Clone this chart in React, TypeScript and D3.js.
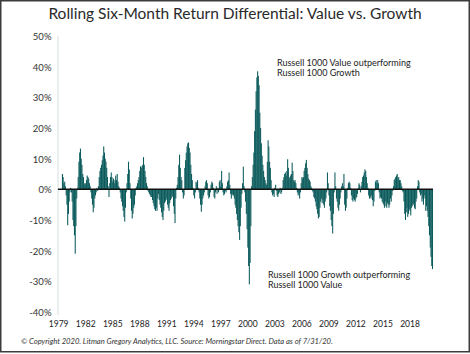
import React from "react";
import * as d3 from "d3";

// first monthly observation: June 1979 (rolling six-month window)
const startYear = 1979;
const startMonth = 5; // June (0-based)

// Rolling six-month return differential, Russell 1000 Value minus Russell 1000 Growth (%)
const values: number[] = [
  // 1979 (Jun-Dec)
  5, 4, 2, 2.5, 1, -2, -5,
  // 1980
  -11.7, -8, -4, -1, 0.5, -1, -4, -10, -12, -15, -21, -12,
  // 1981
  -3, 0.5, 4, 9, 12, 13.3, 10, 8, 5, 4, 2, 1.5,
  // 1982
  2, 3, 4.5, 4, 3.5, 2, 1, -1, -3, -5, -7.5, -6,
  // 1983
  -3, -2, -1, 0.5, -0.5, 1, 4, 6, 7, 8, 9.5, 11,
  // 1984
  14, 12, 10, 9, 7, 4, 1, -2.5, 2, 4, 5.5, 4,
  // 1985
  2.5, 3.5, 2, 3, 4.5, 3, 5, 2.5, 1, 0.5, -1, -3,
  // 1986
  -4, -5.5, -7, -9, -10.5, -6, -1, 2, 5, 9, 6.5, 2,
  // 1987
  -3, -7, -9.5, -8, -6, -5, -2, 0.5, 1, 2, 3, 4,
  // 1988
  6, 7.5, 7, 7.5, 8, 10.5, 8, 6, 4, 2, 1, -0.5,
  // 1989
  -1, -1.5, -2, -2.5, -2.5, -3.5, -4.5, -5.5, -6.5, -7, -6, -7,
  // 1990
  -3, -1.5, -3.5, -5, -6, -7.5, -9, -10, -7, -4.5, -4, -3.5,
  // 1991
  -3, -5, -6, -7, -4.5, -3.5, -3, -2, -2.5, -5.5, -8, -11,
  // 1992
  -3, 0.5, 1.5, 4, 8, 11.3, 7, 4, 3, -1, -3, -2,
  // 1993
  7, 9.5, 12, 14, 15, 15.3, 13.5, 12, 8, 5, 3, 0.5,
  // 1994
  -2, -3, -1, 2.5, 2, 3, 0.5, -1, -3, -5, -7.3, -5,
  // 1995
  -3, -2, -1, 1, 2.5, 3, 2, -2, -3, -2.5, -1, 1.5,
  // 1996
  2.5, 2, 0.5, -2.5, -3, -1, 1, -1.5, 0.5, -1, 2.5, 3,
  // 1997
  1, 6, 2, -1, -2, -1.5, -0.5, -1, 1, 2.5, 3, 5.5,
  // 1998
  1.5, -1.5, -3, -2, -1.5, -2, -3, -5, -6, -8, -10, -12,
  // 1999
  -14, -16.5, -12, -6, -1.5, 2, 7.4, 1, -1, -4, -8, -13,
  // 2000
  -19, -25, -31, -24, -12, 1, 4, 8, 12, 19, 26, 32,
  // 2001
  36.5, 38.5, 37, 34, 25, 20, 15, 11, 8, 6, 4, 3,
  // 2002
  2, 1.5, 9, 16, 14, 9, 7, 3, -1, -2, -1.5, -2.5,
  // 2003
  0.5, 1.5, -0.5, -2, -2.5, -1.5, -1, 0.5, -1.5, -1, 0.5, 3,
  // 2004
  4, 5, 5.5, 4.5, 6, 9.8, 7, 4, 3.5, 4.5, 5, 8.7,
  // 2005
  6, 3, 2.5, 3, 2, 0.5, -1, -2, -1.5, -3, -1, 2,
  // 2006
  4, 3.5, 4, 6, 7, 8.5, 9.6, 7, 5, 3.5, 3, 2.5,
  // 2007
  1, 0.5, -0.5, -1, -2.5, -3, -4, -5.5, -6.5, -8, -9.5, -9,
  // 2008
  -6, -4, -3, -4.5, -3.5, -5, -6, -4, -3, -1, 5.5, 2,
  // 2009
  -2, -5.5, -7, -10, -12, -14.4, -8, -1, 5.5, 1, -3, -4,
  // 2010
  -6, -7, -5, -3, -1, 1, 2, 1, 5, -5, -7, -6,
  // 2011
  -3, 0.5, 2, 2.5, 2, 0.5, -2, -3.5, -4, -3, -3.5, -4,
  // 2012
  -3, -2.5, -1.5, 0.5, 2, 1.5, -1, 1, 2.5, 4, 4.5, 5.5,
  // 2013
  6.5, 6, 4, 2, 0.5, -2, -3, -2.5, -3, -2, -3.5, -5.5,
  // 2014
  -4, -0.5, 2.5, 3, 2, 3, 2, -1, -3, -2.5, -3, -4,
  // 2015
  -4.5, -5, -6, -4, -5.5, -6, -4.5, -5, -6, -5, -3, -4,
  // 2016
  -2, -0.5, 1, 3, 3.5, 4, 4.5, 5, 3.5, 4, 3, 3,
  // 2017
  2, 1, -0.5, -1, -4, -8, -10, -7.5, -6, -9, -8, -6.5,
  // 2018
  -7, -8.5, -6, -5.5, -4.5, -5, -6, -6.5, -4, -3, 1, 3,
  // 2019
  2.5, -1, -2, -1.5, -4, -3, -5, -2, -3, -7, -5.5, -7,
  // 2020 (Jan-Jul)
  -9, -12, -15, -19, -22, -25, -26,
];

const yTicks = [50, 40, 30, 20, 10, 0, -10, -20, -30, -40];
const xTickYears = [1979, 1982, 1985, 1988, 1991, 1994, 1997, 2000, 2003, 2006, 2009, 2012, 2015, 2018];

const title = "Rolling Six-Month Return Differential: Value vs. Growth";
const noteTop = ["Russell 1000 Value outperforming", "Russell 1000 Growth"];
const noteBottom = ["Russell 1000 Growth outperforming", "Russell 1000 Value"];
const footer =
  "© Copyright 2020. Litman Gregory Analytics, LLC. Source: Morningstar Direct. Data as of 7/31/20.";

const FONT = "Lato, 'Open Sans', sans-serif";

export default function App() {
  const W = 470;
  const H = 354;
  const dates = values.map((_, i) => d3.timeMonth.offset(new Date(startYear, startMonth, 1), i));
  const x = d3
    .scaleTime()
    .domain([new Date(1979, 0, 1), new Date(2020, 6, 1)])
    .range([58.7, 432.5]);
  const y = d3.scaleLinear().domain([-40, 50]).range([312, 36]);
  const bw = 1.05;
  const left = 58;
  const right = 433;

  return (
    <svg
      width={W}
      height={H}
      style={{ position: "fixed", left: 0, top: 0, background: "#fff" }}
      fontFamily={FONT}
    >
      <rect x={0} y={0} width={W} height={H} fill="#fff" />
      <rect x={0.75} y={0.75} width={468.5} height={351} fill="none" stroke="#3c3c3c" strokeWidth={1.5} />
      <text x={235} y={19} textAnchor="middle" fontSize={15.5} fill="#2a2a2a">
        {title}
      </text>

      {/* y axis line */}
      <line x1={left} x2={left} y1={y(50)} y2={y(-40) + 3} stroke="#d5e0e0" strokeWidth={1} />
      {yTicks.map((t) => (
        <text key={t} x={51.5} y={y(t) + 1.6} textAnchor="end" dominantBaseline="middle" fontSize={9.5} fill="#333">
          {`${t}%`}
        </text>
      ))}

      {/* bars */}
      <g fill="#0c5b5c">
        {values.map((v, i) => {
          const cx = x(dates[i]);
          const y0 = y(0);
          const yv = y(v);
          return (
            <rect
              key={i}
              x={cx - bw / 2}
              y={Math.min(y0, yv)}
              width={bw}
              height={Math.abs(yv - y0)}
            />
          );
        })}
      </g>

      {/* zero line */}
      <line x1={left} x2={right} y1={y(0)} y2={y(0)} stroke="#111" strokeWidth={1.5} />

      {/* x tick labels */}
      {xTickYears.map((yr) => (
        <text key={yr} x={x(new Date(yr, 0, 1))} y={327} textAnchor="middle" fontSize={8.5} fill="#222">
          {yr}
        </text>
      ))}

      {/* annotations */}
      <text fontSize={9} fill="#222">
        <tspan x={277} y={66}>{noteTop[0]}</tspan>
        <tspan x={277} y={75.5}>{noteTop[1]}</tspan>
      </text>
      <text fontSize={9} fill="#222">
        <tspan x={268} y={277.5}>{noteBottom[0]}</tspan>
        <tspan x={268} y={287.5}>{noteBottom[1]}</tspan>
      </text>

      <text x={21} y={344} fontSize={7.6} fontStyle="italic" fill="#333">
        {footer}
      </text>
    </svg>
  );
}
